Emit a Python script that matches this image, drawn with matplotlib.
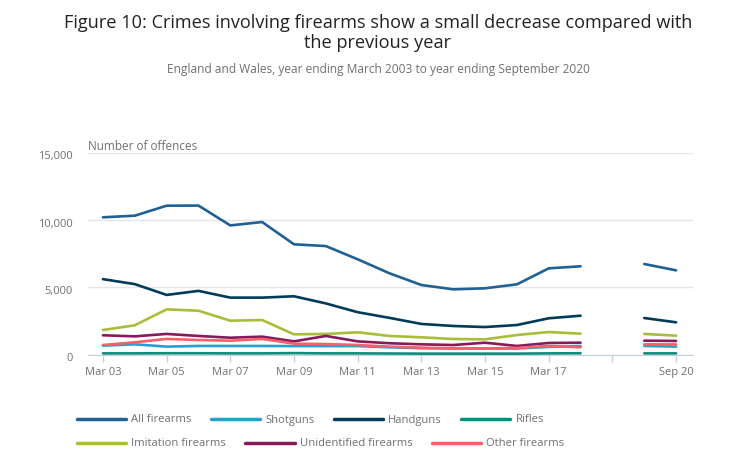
import numpy as np
import matplotlib.pyplot as plt
import matplotlib.transforms as mtransforms

plt.rcParams['font.family'] = ['Open Sans', 'DejaVu Sans']

# periods: Mar 03 .. Mar 18 (yearly), gap at Mar 19, then YE Sep 19 and Sep 20
periods = ['Mar 03', 'Mar 04', 'Mar 05', 'Mar 06', 'Mar 07', 'Mar 08', 'Mar 09',
           'Mar 10', 'Mar 11', 'Mar 12', 'Mar 13', 'Mar 14', 'Mar 15', 'Mar 16',
           'Mar 17', 'Mar 18', 'Mar 19', 'Sep 19', 'Sep 20']
nan = np.nan

all_firearms = [10200, 10320, 11060, 11070, 9600, 9850, 8200, 8070, 7090, 6050,
                5185, 4865, 4940, 5235, 6420, 6570, nan, 6740, 6270]
shotguns = [690, 790, 620, 670, 670, 670, 660, 660, 660, 570,
            500, 480, 480, 480, 600, 660, nan, 670, 620]
handguns = [5620, 5250, 4450, 4750, 4250, 4250, 4350, 3820, 3170, 2750,
            2300, 2150, 2070, 2220, 2720, 2910, nan, 2740, 2420]
rifles = [120, 120, 130, 130, 120, 120, 140, 120, 120, 110,
          100, 100, 100, 100, 120, 130, nan, 120, 120]
imitation = [1850, 2200, 3380, 3280, 2540, 2590, 1530, 1560, 1680, 1410,
             1310, 1185, 1160, 1480, 1700, 1580, nan, 1560, 1430]
unidentified = [1460, 1380, 1560, 1410, 1280, 1360, 1010, 1410, 1010, 870,
                790, 740, 910, 670, 890, 910, nan, 1060, 1040]
other = [740, 940, 1190, 1110, 1060, 1190, 840, 810, 740, 620,
         540, 500, 490, 520, 670, 570, nan, 790, 780]

tick_pos = list(range(0, 19, 2))
tick_labels = ['Mar 03', 'Mar 05', 'Mar 07', 'Mar 09', 'Mar 11', 'Mar 13',
               'Mar 15', 'Mar 17', '', 'Sep 20']
y_ticks = [0, 5000, 10000, 15000]

series = [
    ('All firearms', all_firearms, '#206095'),
    ('Shotguns', shotguns, '#27a0cc'),
    ('Handguns', handguns, '#003c57'),
    ('Rifles', rifles, '#118c7b'),
    ('Imitation firearms', imitation, '#a8bd3a'),
    ('Unidentified firearms', unidentified, '#871a5b'),
    ('Other firearms', other, '#f66068'),
]

grey = '#707070'
fig = plt.figure(figsize=(7.43, 4.70), dpi=100)
ax = fig.add_axes([0.1184, 0.2447, 0.8143, 0.4308])

x = np.arange(len(periods))
lines = {}
# draw order: small lines on top like the original
order = ['All firearms', 'Handguns', 'Imitation firearms', 'Unidentified firearms',
         'Shotguns', 'Other firearms', 'Rifles']
for name, vals, col in series:
    ln, = ax.plot(x, vals, color=col, lw=1.9, solid_capstyle='round',
                  solid_joinstyle='round', label=name,
                  zorder=3 + order.index(name) * 0.1)
    lines[name] = ln

ax.set_xlim(-0.47, 18.53)
ax.set_ylim(0, 15000)
ax.set_yticks(y_ticks)
ax.set_yticklabels(['{:,}'.format(v) for v in y_ticks])
ax.set_xticks(tick_pos)
ax.set_xticklabels(tick_labels)
ax.tick_params(axis='y', length=0, pad=10.8, labelsize=8, labelcolor=grey)
ax.tick_params(axis='x', length=5, width=1, color='#c5d0e3', pad=3.5,
               labelsize=8, labelcolor=grey)
# y labels sit a touch below their gridlines in the original
down = mtransforms.ScaledTranslation(0, -2.5 / 100, fig.dpi_scale_trans)
for lab in ax.get_yticklabels():
    lab.set_transform(lab.get_transform() + down)
ax.grid(axis='y', color='#e5e5e5', lw=1)
ax.set_axisbelow(True)
for s in ['top', 'right', 'left']:
    ax.spines[s].set_visible(False)
ax.spines['bottom'].set_color('#c5d0e3')
ax.spines['bottom'].set_zorder(2)

up = mtransforms.ScaledTranslation(0, 2.5 / 100, fig.dpi_scale_trans)
ax.text(0, 1.0, 'Number of offences', transform=ax.transAxes + up, ha='left',
        va='baseline', fontsize=8.5, color=grey)

cx = 378 / 743
fig.text(cx, 1 - 28 / 470, 'Figure 10: Crimes involving firearms show a small decrease compared with',
         ha='center', va='baseline', fontsize=13.1, color='#222222')
fig.text(cx, 1 - 48.5 / 470, 'the previous year',
         ha='center', va='baseline', fontsize=13.1, color='#222222')
fig.text(cx, 1 - 72.5 / 470, 'England and Wales, year ending March 2003 to year ending September 2020',
         ha='center', va='baseline', fontsize=8.55, color=grey)

h = [lines[n] for n, _, _ in series]
leg_kw = dict(frameon=False, fontsize=8.1, handlelength=4.4, handletextpad=0.45,
              columnspacing=1.7, borderpad=0, borderaxespad=0, labelcolor=grey)
leg1 = fig.legend(h[:4], [n for n, _, _ in series[:4]], ncol=4,
                  loc='center left', bbox_to_anchor=(0.103, 1 - 420 / 470), **leg_kw)
leg2 = fig.legend(h[4:], [n for n, _, _ in series[4:]], ncol=3,
                  loc='center left', bbox_to_anchor=(0.103, 1 - 444 / 470), **leg_kw)
for lg in (leg1, leg2):
    for l in lg.get_lines():
        l.set_linewidth(2.5)

fig.savefig('out.png', dpi=100)
